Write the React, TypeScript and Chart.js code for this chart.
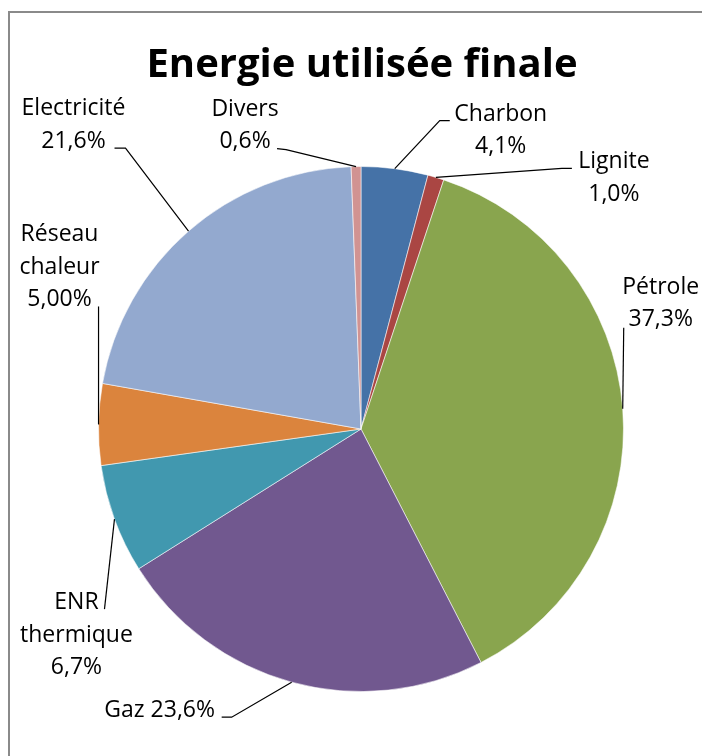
import { useEffect, useRef } from "react";
import { Chart, registerables } from "chart.js";

Chart.register(...registerables);

// ---- data ----
const title = "Energie utilisée finale";
const categories = ["Charbon", "Lignite", "Pétrole", "Gaz", "ENR thermique", "Réseau chaleur", "Electricité", "Divers"];
const values = [4.1, 1.0, 37.3, 23.6, 6.7, 5.0, 21.6, 0.6];
const valueLabels = ["4,1%", "1,0%", "37,3%", "23,6%", "6,7%", "5,00%", "21,6%", "0,6%"];

// ---- style ----
const colors = ["#4572A7", "#AA4643", "#89A54E", "#71588F", "#4198AF", "#DB843D", "#93A9CF", "#D19392"];
// how each label's text is broken into lines
const nameLines: (string[] | null)[] = [
  ["Charbon"], ["Lignite"], ["Pétrole"], null, ["ENR", "thermique"], ["Réseau", "chaleur"], ["Electricité"], ["Divers"],
];
// text position (center x, first baseline) relative to slice's outer mid-point
const labelOffsets: [number, number][] = [
  [106, -48], [178, -9], [38, -115], [-132, 35], [-38, 90], [-39, -183], [-115, -116], [-111, -51],
];
// leader line bends relative to slice's outer mid-point
const leaderOffsets: [number, number][][] = [
  [[45, -48], [55, -48]],
  [[126, -9], [136, -9]],
  [[1, -81]],
  [[-60, 35], [-70, 35]],
  [[-10, 90]],
  [[0, -118]],
  [[-63, -83], [-74, -83]],
  [[-70, -17], [-79, -18]],
];

const FONT = "'Open Sans', 'DejaVu Sans', sans-serif";
const LINE_H = 32.5;

const piePlugin = {
  id: "pieDecor",
  beforeDraw(chart: any) {
    const ctx = chart.ctx as CanvasRenderingContext2D;
    ctx.save();
    ctx.fillStyle = "#ffffff";
    ctx.fillRect(0, 0, chart.width, chart.height);
    ctx.strokeStyle = "#8a8a8a";
    ctx.lineWidth = 2;
    ctx.beginPath();
    ctx.moveTo(9, chart.height);
    ctx.lineTo(9, 12);
    ctx.lineTo(chart.width, 12);
    ctx.stroke();
    ctx.restore();
  },
  afterDatasetsDraw(chart: any) {
    const ctx = chart.ctx as CanvasRenderingContext2D;
    const meta = chart.getDatasetMeta(0);
    ctx.save();
    // title
    ctx.fillStyle = "#000000";
    ctx.font = `bold 40px ${FONT}`;
    ctx.textAlign = "center";
    ctx.textBaseline = "alphabetic";
    const ca = chart.chartArea;
    ctx.fillText(title, (ca.left + ca.right) / 2 + 1, 77);

    meta.data.forEach((arc: any, i: number) => {
      const p = arc.getProps(["x", "y", "startAngle", "endAngle", "outerRadius"], true);
      const mid = (p.startAngle + p.endAngle) / 2;
      const ax = p.x + Math.cos(mid) * p.outerRadius;
      const ay = p.y + Math.sin(mid) * p.outerRadius;
      // leader
      ctx.strokeStyle = "#000000";
      ctx.lineWidth = 1.2;
      ctx.beginPath();
      ctx.moveTo(ax, ay);
      leaderOffsets[i].forEach(([dx, dy]) => ctx.lineTo(ax + dx, ay + dy));
      ctx.stroke();
      // text
      const lines = nameLines[i]
        ? [...(nameLines[i] as string[]), valueLabels[i]]
        : [`${categories[i]} ${valueLabels[i]}`];
      ctx.font = `23px ${FONT}`;
      ctx.fillStyle = "#000000";
      ctx.textAlign = "center";
      const [tx, ty] = labelOffsets[i];
      lines.forEach((ln, k) => ctx.fillText(ln, ax + tx, ay + ty + k * LINE_H));
    });
    ctx.restore();
  },
};

export default function App() {
  const ref = useRef<HTMLCanvasElement | null>(null);
  useEffect(() => {
    if (!ref.current) return;
    const chart = new Chart(ref.current, {
      type: "pie",
      data: {
        labels: categories,
        datasets: [
          {
            data: values,
            backgroundColor: colors,
            borderColor: "rgba(255,255,255,0.55)",
            borderWidth: 1,
          },
        ],
      },
      options: {
        responsive: false,
        animation: false,
        devicePixelRatio: 1,
        layout: { padding: { left: 98, right: 78, top: 166, bottom: 64 } },
        plugins: {
          legend: { display: false },
          tooltip: { enabled: false },
          title: { display: false },
        },
      },
      plugins: [piePlugin],
    });
    return () => chart.destroy();
  }, []);
  return (
    <div style={{ position: "absolute", left: 0, top: 0, width: 702, height: 756, overflow: "hidden" }}>
      <canvas ref={ref} width={702} height={756} style={{ display: "block" }} />
    </div>
  );
}
